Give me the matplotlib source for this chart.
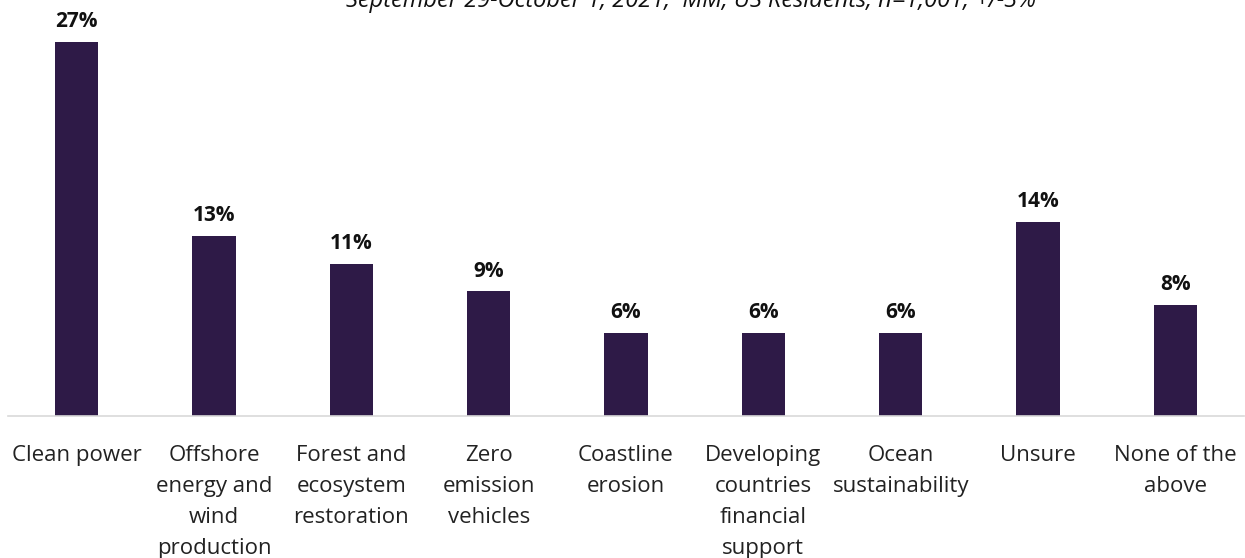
import matplotlib
matplotlib.use("Agg")
import matplotlib.pyplot as plt

categories = [
    "Clean power",
    "Offshore\nenergy and\nwind\nproduction",
    "Forest and\necosystem\nrestoration",
    "Zero\nemission\nvehicles",
    "Coastline\nerosion",
    "Developing\ncountries\nfinancial\nsupport",
    "Ocean\nsustainability",
    "Unsure",
    "None of the\nabove",
]
values = [27, 13, 11, 9, 6, 6, 6, 14, 8]
subtitle = "September 29-October 1, 2021, \u00b4MM, US Residents, n=1,001, +/-3%"

bar_color = "#2E1A47"
font = ["Open Sans", "DejaVu Sans"]

fig = plt.figure(figsize=(12.45, 5.58), dpi=100)
ax = fig.add_axes([8 / 1245, 142 / 558, 1236 / 1245, 416 / 558])

x = list(range(len(categories)))
ax.bar(x, values, width=0.315, color=bar_color, zorder=2)
ax.set_xlim(-0.5, len(categories) - 0.5)
ax.set_ylim(0, 416 / 13.85)

for xi, v in zip(x, values):
    ax.annotate(f"{v}%", (xi, v), xytext=(0, 7), textcoords="offset points",
                ha="center", va="bottom", fontsize=15, fontweight="bold",
                family=font, color="#111111")

ax.set_xticks(x)
ax.set_xticklabels(categories, fontsize=16, family=font, color="#222222",
                   linespacing=1.62)
ax.tick_params(axis="x", length=0, pad=21)
ax.set_yticks([])
for side in ["top", "right", "left"]:
    ax.spines[side].set_visible(False)
ax.spines["bottom"].set_color("#d9d9d9")
ax.spines["bottom"].set_linewidth(1.2)

fig.text(0.555, 1 - 7 / 558, subtitle, ha="center", va="baseline",
         fontsize=17, style="italic", family=font, color="#111111")

fig.savefig("out.png", dpi=100)
